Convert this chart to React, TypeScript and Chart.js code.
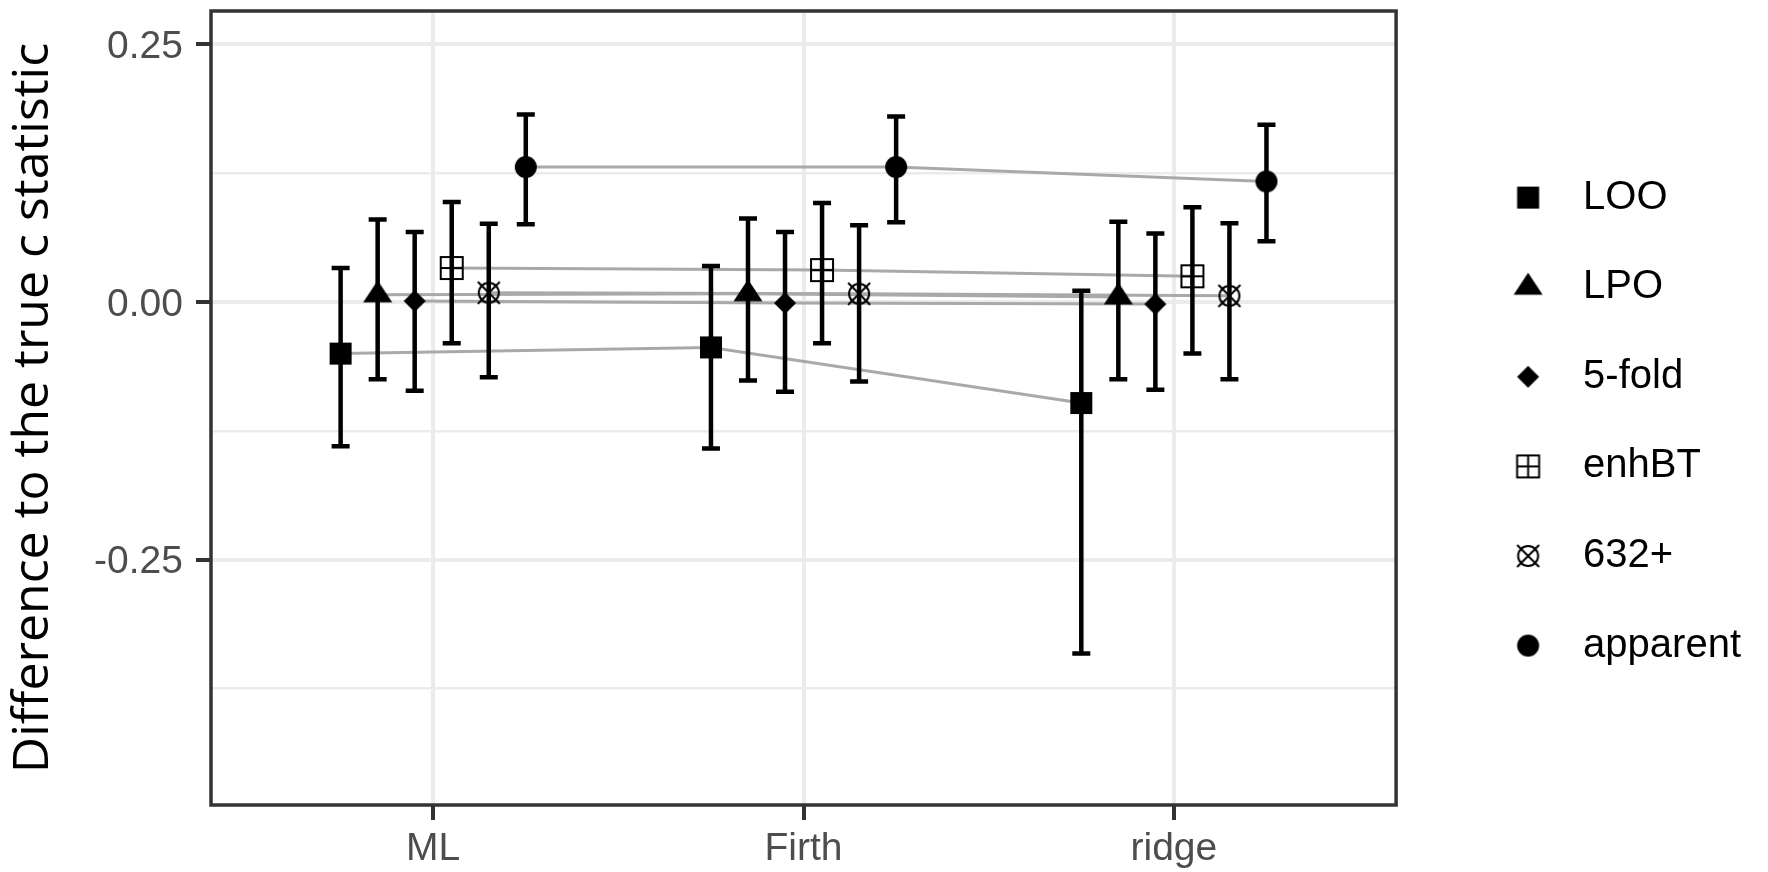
import React, { useEffect, useRef } from 'react';
import { Chart, registerables } from 'chart.js';

Chart.register(...registerables);

// ---------- data ----------
const groups = ['ML', 'Firth', 'ridge'];
const methods = ['LOO', 'LPO', '5-fold', 'enhBT', '632+', 'apparent'];
const dodgeOffsets = [-0.25, -0.15, -0.05, 0.05, 0.15, 0.25];

const looMean = [-0.05, -0.044, -0.098];
const looLower = [-0.14, -0.142, -0.341];
const looUpper = [0.033, 0.035, 0.011];

const lpoMean = [0.007, 0.008, 0.005];
const lpoLower = [-0.075, -0.076, -0.075];
const lpoUpper = [0.08, 0.081, 0.078];

const fiveFoldMean = [0.001, -0.001, -0.002];
const fiveFoldLower = [-0.086, -0.087, -0.085];
const fiveFoldUpper = [0.068, 0.068, 0.0665];

const enhBTMean = [0.033, 0.031, 0.025];
const enhBTLower = [-0.04, -0.04, -0.05];
const enhBTUpper = [0.097, 0.096, 0.092];

const plus632Mean = [0.009, 0.008, 0.006];
const plus632Lower = [-0.073, -0.077, -0.075];
const plus632Upper = [0.076, 0.0745, 0.0765];

const apparentMean = [0.131, 0.131, 0.117];
const apparentLower = [0.0755, 0.0775, 0.059];
const apparentUpper = [0.182, 0.18, 0.172];

const yMajorTicks = [-0.25, 0, 0.25];
const yMinorTicks = [-0.375, -0.125, 0.125];
const yTitle = 'Difference to the true c statistic';

const means = [looMean, lpoMean, fiveFoldMean, enhBTMean, plus632Mean, apparentMean];
const lowers = [looLower, lpoLower, fiveFoldLower, enhBTLower, plus632Lower, apparentLower];
const uppers = [looUpper, lpoUpper, fiveFoldUpper, enhBTUpper, plus632Upper, apparentUpper];
const symbolKinds = ['square', 'triangle', 'diamond', 'boxplus', 'circlecross', 'circle'];

// ---------- symbols ----------
function makeIcon(kind: string, w: number, h: number, cx: number, cy: number): HTMLCanvasElement {
  const c = document.createElement('canvas');
  c.width = w;
  c.height = h;
  const g = c.getContext('2d')!;
  g.fillStyle = '#000';
  g.strokeStyle = '#000';
  switch (kind) {
    case 'square':
      g.fillRect(cx - 11, cy - 11, 22, 22);
      break;
    case 'triangle':
      g.beginPath();
      g.moveTo(cx, cy - 14.5);
      g.lineTo(cx + 14.5, cy + 7.5);
      g.lineTo(cx - 14.5, cy + 7.5);
      g.closePath();
      g.fill();
      break;
    case 'diamond':
      g.beginPath();
      g.moveTo(cx, cy - 11);
      g.lineTo(cx + 11, cy);
      g.lineTo(cx, cy + 11);
      g.lineTo(cx - 11, cy);
      g.closePath();
      g.fill();
      break;
    case 'boxplus':
      g.lineWidth = 2;
      g.strokeRect(cx - 11, cy - 11, 22, 22);
      g.beginPath();
      g.moveTo(cx, cy - 11);
      g.lineTo(cx, cy + 11);
      g.moveTo(cx - 11, cy);
      g.lineTo(cx + 11, cy);
      g.stroke();
      break;
    case 'circlecross': {
      g.lineWidth = 2;
      g.beginPath();
      g.arc(cx, cy, 10, 0, Math.PI * 2);
      g.stroke();
      const d = 11;
      g.beginPath();
      g.moveTo(cx - d, cy - d);
      g.lineTo(cx + d, cy + d);
      g.moveTo(cx + d, cy - d);
      g.lineTo(cx - d, cy + d);
      g.stroke();
      break;
    }
    case 'circle':
      g.beginPath();
      g.arc(cx, cy, 11, 0, Math.PI * 2);
      g.fill();
      break;
  }
  return c;
}

const isMajor = (v: number) => yMajorTicks.some((t) => Math.abs(t - v) < 1e-9);

const LEGEND_BOX_W = 117.4;

const overlayPlugin = {
  id: 'errorBarsAndBorder',
  beforeDatasetsDraw(chart: any) {
    chart.$ebDone = false;
  },
  beforeDatasetDraw(chart: any, args: any) {
    const ds: any = chart.data.datasets[args.index];
    if (ds.kind !== 'points' || chart.$ebDone) return;
    chart.$ebDone = true;
    const ctx = chart.ctx;
    const xs = chart.scales.x;
    const ys = chart.scales.y;
    ctx.save();
    ctx.strokeStyle = '#000';
    ctx.lineWidth = 4.5;
    ctx.lineCap = 'butt';
    for (let m = 0; m < methods.length; m++) {
      for (let g = 0; g < groups.length; g++) {
        const x = xs.getPixelForValue(g + 1 + dodgeOffsets[m]);
        const yl = ys.getPixelForValue(lowers[m][g]);
        const yu = ys.getPixelForValue(uppers[m][g]);
        ctx.beginPath();
        ctx.moveTo(x, yu);
        ctx.lineTo(x, yl);
        ctx.moveTo(x - 9, yu);
        ctx.lineTo(x + 9, yu);
        ctx.moveTo(x - 9, yl);
        ctx.lineTo(x + 9, yl);
        ctx.stroke();
      }
    }
    ctx.restore();
  },
  afterDatasetsDraw(chart: any) {
    const { left, top, width, height } = chart.chartArea;
    const ctx = chart.ctx;
    ctx.save();
    ctx.strokeStyle = '#333333';
    ctx.lineWidth = 3.5;
    ctx.strokeRect(left, top, width, height);
    ctx.restore();
  },
};

export default function App() {
  const canvasRef = useRef<HTMLCanvasElement | null>(null);

  useEffect(() => {
    if (!canvasRef.current) return;
    const pointIcons = symbolKinds.map((k) => makeIcon(k, 32, 32, 16, 16));
    const legendIcons = symbolKinds.map((k) => makeIcon(k, 118, 32, 82.7, 16));

    const lineDatasets = methods.map((m, i) => ({
      kind: 'line',
      label: m + ' line',
      data: groups.map((_, g) => ({ x: g + 1 + dodgeOffsets[i], y: means[i][g] })),
      showLine: true,
      borderColor: '#A9A9A9',
      borderWidth: 3,
      pointRadius: 0,
      pointHoverRadius: 0,
      order: 2,
    }));
    const pointDatasets = methods.map((m, i) => ({
      kind: 'points',
      label: m,
      data: groups.map((_, g) => ({ x: g + 1 + dodgeOffsets[i], y: means[i][g] })),
      showLine: false,
      pointStyle: pointIcons[i],
      pointRadius: 10,
      pointHoverRadius: 10,
      backgroundColor: '#000',
      borderColor: '#000',
      order: 1,
    }));

    const chart = new Chart(canvasRef.current, {
      type: 'scatter',
      data: { datasets: [...lineDatasets, ...pointDatasets] as any },
      plugins: [overlayPlugin as any],
      options: {
        animation: false,
        responsive: false,
        events: [],
        layout: { padding: { left: 0, top: 9, right: 17, bottom: 0 } },
        plugins: {
          tooltip: { enabled: false },
          legend: {
            position: 'right',
            align: 'start',
            title: {
              display: true,
              text: '',
              font: { size: 10 },
              padding: { top: 107, bottom: 0 },
            },
            labels: {
              usePointStyle: true,
              pointStyleWidth: LEGEND_BOX_W,
              padding: 49.6,
              color: '#000',
              font: { family: "'Liberation Sans', Arial, sans-serif", size: 40 },
              generateLabels: () =>
                methods.map((m, i) => ({
                  text: m,
                  fillStyle: '#000',
                  strokeStyle: '#000',
                  lineWidth: 0,
                  pointStyle: legendIcons[i] as any,
                  hidden: false,
                  datasetIndex: methods.length + i,
                  fontColor: '#000',
                })),
            },
          },
        },
        scales: {
          x: {
            type: 'linear',
            min: 0.4,
            max: 3.6,
            afterBuildTicks: (s: any) => {
              s.ticks = groups.map((_, i) => ({ value: i + 1 }));
            },
            afterFit: (s: any) => {
              s.height = 67;
              s.paddingLeft = 0;
              s.paddingRight = 0;
            },
            ticks: {
              callback: (v: any) => groups[Math.round(Number(v)) - 1] ?? '',
              color: '#4D4D4D',
              font: { family: "'Liberation Sans', Arial, sans-serif", size: 39 },
              padding: 6,
              autoSkip: false,
              maxRotation: 0,
              minRotation: 0,
            },
            grid: {
              color: '#EBEBEB',
              lineWidth: 4,
              tickLength: 15,
              tickColor: '#333333',
              tickWidth: 4,
            },
            border: { display: false },
          },
          y: {
            type: 'linear',
            min: -0.488,
            max: 0.2824,
            afterBuildTicks: (s: any) => {
              s.ticks = [...yMajorTicks, ...yMinorTicks].sort((a, b) => a - b).map((v) => ({ value: v }));
            },
            afterFit: (s: any) => {
              s.width = 211;
              s.paddingTop = 0;
              s.paddingBottom = 0;
            },
            ticks: {
              callback: (v: any) => (isMajor(Number(v)) ? Number(v).toFixed(2) : ''),
              color: '#4D4D4D',
              font: { family: "'Liberation Sans', Arial, sans-serif", size: 39 },
              padding: 13,
              labelOffset: 3,
              autoSkip: false,
            },
            grid: {
              color: '#EBEBEB',
              lineWidth: (c: any) => (isMajor(c.tick?.value) ? 4 : 2.5),
              tickLength: 15,
              tickColor: (c: any) => (isMajor(c.tick?.value) ? '#333333' : 'rgba(0,0,0,0)'),
              tickWidth: 4,
            },
            border: { display: false },
            title: {
              display: true,
              text: yTitle,
              color: '#000',
              font: { family: "'Open Sans', sans-serif", size: 50 },
              padding: { top: 4, bottom: 0 },
            },
          },
        },
      } as any,
    });
    return () => chart.destroy();
  }, []);

  return (
    <div style={{ position: 'fixed', left: 0, top: 0, width: 1768, height: 872, background: '#fff' }}>
      <canvas ref={canvasRef} width={1768} height={872} style={{ display: 'block' }} />
    </div>
  );
}
